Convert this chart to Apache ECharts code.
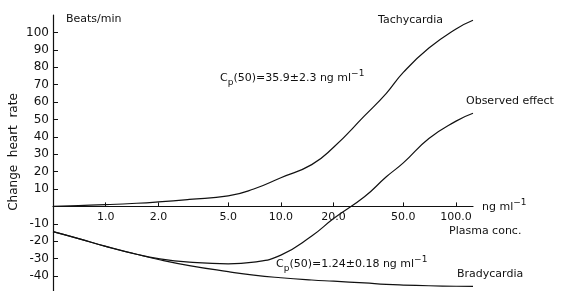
<!DOCTYPE html>
<html>
<head>
<meta charset="utf-8">
<script src="https://cdn.jsdelivr.net/npm/echarts@6/dist/echarts.min.js"></script>
<style>
html, body { margin: 0; padding: 0; background: #fff; }
#chart { width: 564px; height: 291px; }
</style>
</head>
<body>
<div id="chart"></div>
<script>
// plasma concentration, ng/ml
var conc = [0.5, 0.7, 1, 1.5, 2, 3, 5, 7, 10, 15, 20, 30, 40, 50, 70, 100, 125];
// change in heart rate, beats/min
var tachycardia = [0, 0.5, 1, 1.8, 2.6, 4, 6, 10, 16.5, 24, 34, 52, 65, 77, 91, 102, 107];
var observed = [-14.5, -18.5, -23, -27.5, -30, -32, -33, -32, -28, -17, -7, 5.5, 17, 25, 39, 49, 53.5];
var bradycardia = [-14.5, -18.5, -23, -27.5, -30.5, -34, -37.5, -39.5, -41, -42.3, -43, -44, -44.8, -45.2, -45.6, -45.9, -46];
var xTicks = [1, 2, 5, 10, 20, 50, 100];
var yTicks = [-40, -30, -20, -10, 10, 20, 30, 40, 50, 60, 70, 80, 90, 100];

var FONT = 'DejaVu Sans';
var xMin = Math.log10(0.5), xMax = Math.log10(125);
var xTickPos = xTicks.map(function (v) { return Math.log10(v); });

function toPairs(vals) {
    return conc.map(function (c, i) {
        return [Math.log10(c), vals[i]];
    });
}

function curve(name, vals) {
    return {
        name: name,
        type: 'line',
        smooth: true,
        showSymbol: false,
        silent: true,
        lineStyle: { color: '#111', width: 1.2 },
        data: toPairs(vals)
    };
}

function cpText(rest) {
    return '{c|C}{s|p}{c|' + rest + '}{u|\u22121}';
}
var cpRich = {
    c: { fontFamily: FONT, fontSize: 11, lineHeight: 18, verticalAlign: 'middle' },
    s: { fontFamily: FONT, fontSize: 9, lineHeight: 9, verticalAlign: 'bottom' },
    u: { fontFamily: FONT, fontSize: 9, lineHeight: 10, verticalAlign: 'top' }
};

function label(x, y, text, size) {
    return {
        type: 'text',
        x: x,
        y: y,
        style: {
            text: text,
            fill: '#111',
            font: (size || 11) + 'px "' + FONT + '"',
            verticalAlign: 'middle'
        }
    };
}
function richLabel(x, y, text) {
    return {
        type: 'text',
        x: x,
        y: y,
        style: {
            text: text,
            fill: '#111',
            rich: cpRich,
            verticalAlign: 'middle'
        }
    };
}

var chart = echarts.init(document.getElementById('chart'));
var option = {
    animation: false,
    backgroundColor: '#fff',
    grid: { left: 53, right: 91, top: 15, bottom: -2.4, outerBoundsMode: 'none', containLabel: false },
    xAxis: [{
        // axis line + ticks, sitting on y = 0
        type: 'value',
        position: 'bottom',
        min: xMin,
        max: xMax,
        axisLine: { onZero: true, lineStyle: { color: '#111', width: 1.2 } },
        axisTick: {
            inside: true,
            length: 4,
            customValues: xTickPos,
            lineStyle: { color: '#111' }
        },
        axisLabel: { show: false },
        splitLine: { show: false }
    }, {
        // tick labels only, moved up under the zero line
        type: 'value',
        position: 'bottom',
        offset: -87,
        min: xMin,
        max: xMax,
        axisLine: { show: false, onZero: false },
        axisTick: { show: false },
        axisLabel: {
            margin: 5,
            color: '#111',
            fontFamily: FONT,
            fontSize: 11,
            customValues: xTickPos,
            formatter: function (v) { return Math.pow(10, v).toFixed(1); }
        },
        splitLine: { show: false }
    }],
    yAxis: {
        type: 'value',
        min: -50,
        max: 110,
        interval: 10,
        axisLine: { show: true, onZero: false, lineStyle: { color: '#111', width: 1.2 } },
        axisTick: {
            inside: true,
            length: 5,
            customValues: yTicks,
            lineStyle: { color: '#111' }
        },
        axisLabel: {
            margin: 4,
            color: '#111',
            fontFamily: FONT,
            fontSize: 12,
            customValues: yTicks,
            formatter: function (v) {
                return v < 0 ? '-' + (-v) : String(v);
            }
        },
        splitLine: { show: false }
    },
    graphic: [
        {
            type: 'text',
            x: 14,
            y: 152,
            rotation: Math.PI / 2,
            style: {
                text: 'Change  heart  rate',
                fill: '#111',
                font: '12px "' + FONT + '"',
                align: 'center',
                verticalAlign: 'middle'
            }
        },
        label(66, 19, 'Beats/min'),
        label(378, 20, 'Tachycardia'),
        richLabel(220, 78, cpText('(50)=35.9\u00b12.3 ng ml')),
        label(466, 101, 'Observed effect'),
        richLabel(482, 207, '{c|ng ml}{u|\u22121}'),
        label(449, 231, 'Plasma conc.'),
        richLabel(276, 264, cpText('(50)=1.24\u00b10.18 ng ml')),
        label(457, 274, 'Bradycardia')
    ],
    series: [
        curve('Tachycardia', tachycardia),
        curve('Observed effect', observed),
        curve('Bradycardia', bradycardia)
    ]
};
chart.setOption(option);
</script>
</body>
</html>
